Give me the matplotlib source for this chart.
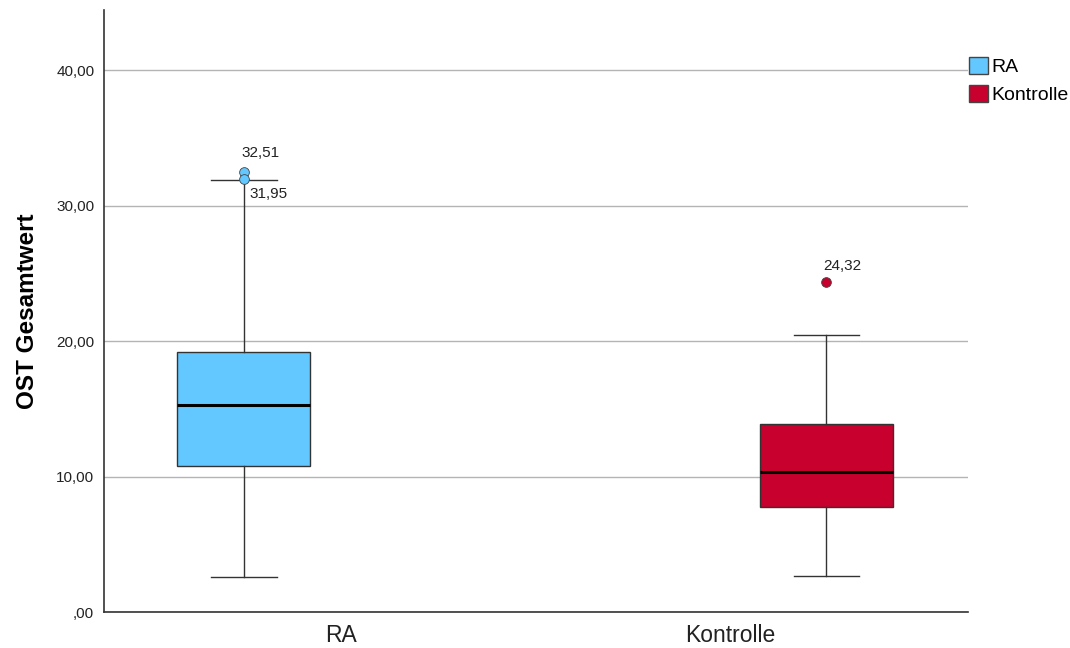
import matplotlib.pyplot as plt
from matplotlib.patches import Patch

plt.rcParams['font.family'] = ['Liberation Sans', 'DejaVu Sans']

groups = ["RA", "Kontrolle"]
colors = ["#63C8FF", "#C8002D"]
q1 = [10.77, 7.75]
med = [15.28, 10.33]
q3 = [19.19, 13.87]
whislo = [2.58, 2.66]
whishi = [31.88, 20.44]
outliers = [[32.51, 31.95], [24.32]]
yticks = [0, 10, 20, 30, 40]

stats = []
for i, g in enumerate(groups):
    stats.append(dict(label=g, q1=q1[i], med=med[i], q3=q3[i],
                      whislo=whislo[i], whishi=whishi[i], fliers=outliers[i]))

fig = plt.figure(figsize=(10.7, 6.48), dpi=100)
ax = fig.add_axes([104/1070, 36/648, 864/1070, 602/648])

positions = [1, 2]
bp = ax.bxp(stats, positions=positions, widths=0.228, capwidths=0.113,
            patch_artist=True, showfliers=True,
            boxprops=dict(edgecolor="#333333", linewidth=1.0),
            medianprops=dict(color="black", linewidth=2.2),
            whiskerprops=dict(color="#333333", linewidth=1.0),
            capprops=dict(color="#333333", linewidth=1.0),
            zorder=3)
for patch, c in zip(bp["boxes"], colors):
    patch.set_facecolor(c)
for fl, c in zip(bp["fliers"], colors):
    fl.set(marker="o", markerfacecolor=c, markeredgecolor="#444444",
           markersize=7, markeredgewidth=0.6)

# outlier labels, offsets in points
offs = [[(-2, 13), (4, -11)], [(-2, 12)]]
for i, vals in enumerate(outliers):
    for v, (dx, dy) in zip(vals, offs[i]):
        ax.annotate(f"{v:.2f}".replace(".", ","), (positions[i], v),
                    xytext=(dx, dy), textcoords="offset points",
                    ha="left", va="center", fontsize=11, color="#222222")

ax.set_xlim(0.76, 2.243)
ax.set_ylim(0, 44.43)
ax.set_yticks(yticks)
ax.set_yticklabels([",00" if v == 0 else f"{v:.2f}".replace(".", ",") for v in yticks],
                   fontsize=11, color="#222222")
# category labels sit between the cluster centre and the box
ax.set_xticks([positions[0] + 0.167, positions[1] - 0.165])
ax.set_xticklabels(groups, fontsize=16.5, color="#222222")
ax.tick_params(axis="both", length=0)
ax.tick_params(axis="y", pad=7)
ax.tick_params(axis="x", pad=9)
ax.yaxis.grid(True, color="#b4b4b4", linewidth=1.0, zorder=0)
ax.set_axisbelow(True)
for s in ["top", "right"]:
    ax.spines[s].set_visible(False)
for s in ["left", "bottom"]:
    ax.spines[s].set_color("#333333")
    ax.spines[s].set_linewidth(1.2)
ax.set_ylabel("OST Gesamtwert", fontsize=17.5, fontweight="bold", labelpad=12)

handles = [Patch(facecolor=c, edgecolor="#444444", label=g) for g, c in zip(groups, colors)]
fig.legend(handles=handles, loc="upper left", bbox_to_anchor=(969/1070, 591/648),
           frameon=False, fontsize=14, handlelength=1.0, handleheight=1.0,
           handletextpad=0.15, labelspacing=0.42, borderaxespad=0, borderpad=0)

fig.savefig("out.png", dpi=100)
